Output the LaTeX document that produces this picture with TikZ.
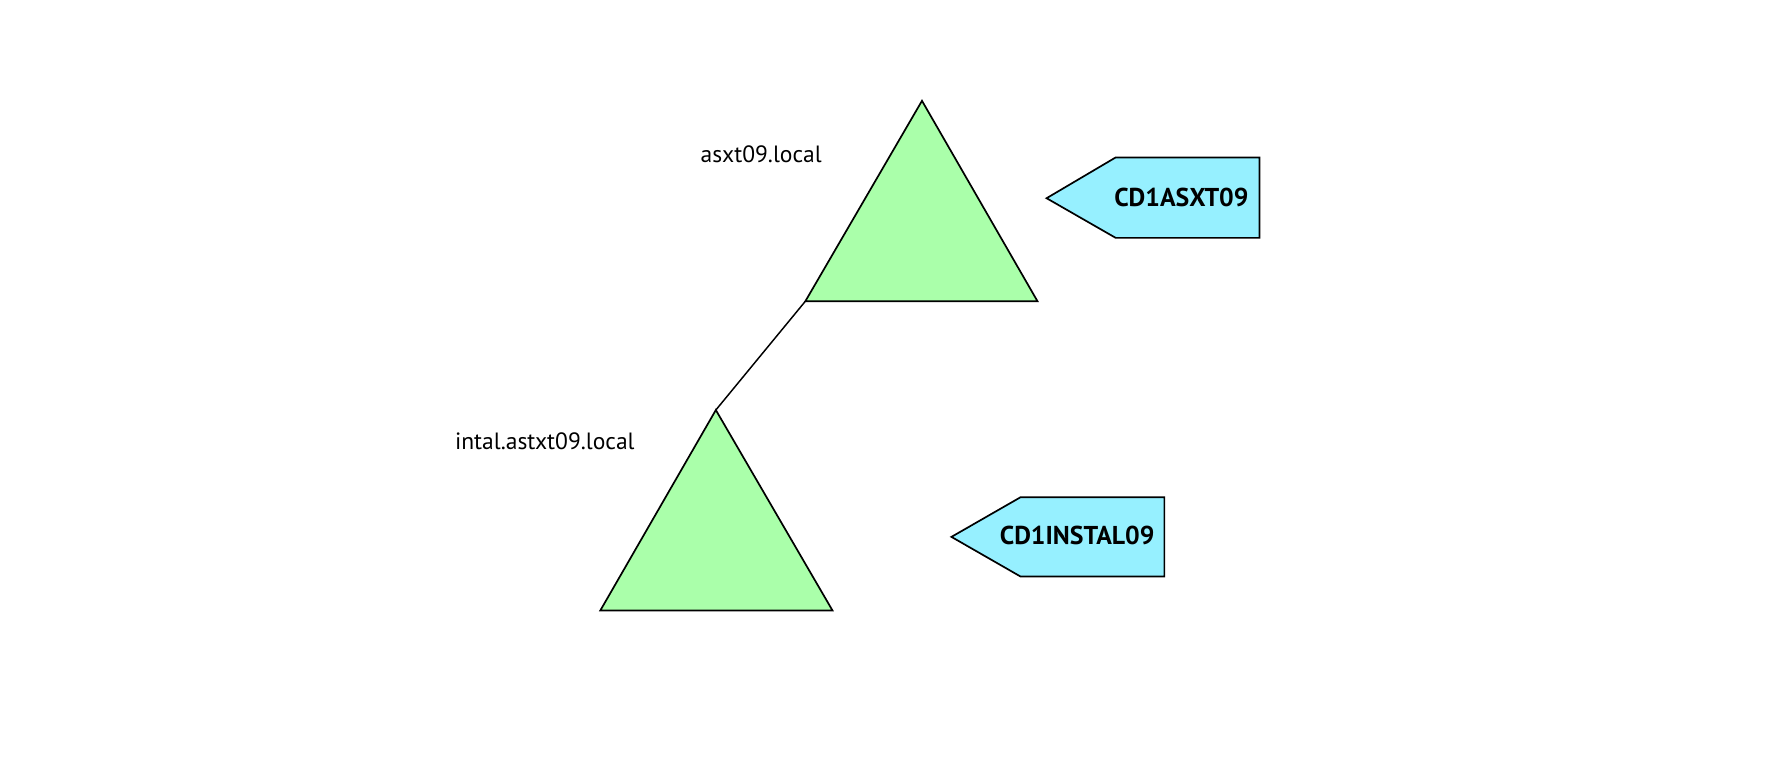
\documentclass[tikz,border=0pt]{standalone}
\usepackage{fontspec}
\setmainfont{PT Sans}
\definecolor{trigreen}{HTML}{AAFFAA}
\definecolor{tagcyan}{HTML}{96F0FF}
\begin{document}
\begin{tikzpicture}[x=1pt,y=-1pt,
  tri/.style={draw=black,fill=trigreen,line width=1.5pt,line join=miter},
  tag/.style={draw=black,fill=tagcyan,line width=1.5pt},
  lbl/.style={font=\fontsize{20.8}{22}\selectfont,inner sep=0pt},
  taglbl/.style={font=\fontsize{22.8}{24}\selectfont\bfseries,inner sep=0pt},
  link/.style={draw=black,line width=1.3pt}]
\useasboundingbox (0,0) rectangle (1568,690);
% top triangle
\coordinate (ta) at (814,89);
\coordinate (tl) at (711,266);
\coordinate (tr) at (916,266);
\draw[tri] (ta) -- (tr) -- (tl) -- cycle;
% bottom triangle
\coordinate (ba) at (632,362);
\coordinate (bl) at (530,539);
\coordinate (br) at (735,539);
\draw[tri] (ba) -- (br) -- (bl) -- cycle;
% connector
\draw[link] (tl) -- (ba);
% labels
\node[lbl] (l1) at (672,136) {asxt09.local};
\node[lbl] (l2) at (481,390) {intal.astxt09.local};
% tags
\draw[tag] (924,175) -- (985,139) -- (1112,139) -- (1112,210) -- (985,210) -- cycle;
\node[taglbl] (t1) at (1043,174) {CD1ASXT09};
\draw[tag] (840,474) -- (901,439) -- (1028,439) -- (1028,509) -- (901,509) -- cycle;
\node[taglbl] (t2) at (951,473) {CD1INSTAL09};
\end{tikzpicture}
\end{document}
